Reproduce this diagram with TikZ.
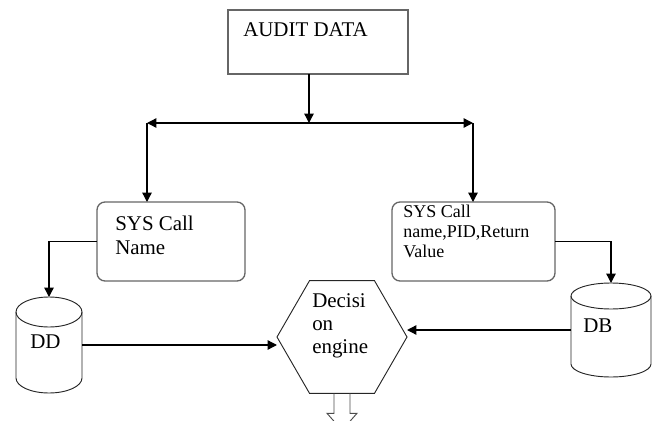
\documentclass[tikz,border=0pt]{standalone}
\usepackage{fontspec}
\setmainfont{Liberation Serif}
\usetikzlibrary{arrows.meta,shapes.geometric}

\begin{document}
\begin{tikzpicture}[x=0.75pt,y=-0.75pt,
    >={Triangle[length=7pt,width=7pt]},
    arr/.style={draw=black,line width=1pt},
    box/.style={draw=black!60,line width=1pt,inner sep=0,outer sep=0},
    txt/.style={inner sep=0,anchor=north west,align=left,font=\fontsize{15.7}{18}\selectfont},
    canline/.style={draw=black!85,line width=0.7pt}]
\clip (0,0) rectangle (657,421);
% top box and the split
\node[box,minimum width=135pt,minimum height=48pt] (audit) at (318,42) {};
\node[txt] (auditT) at (243,22) {AUDIT DATA};
\coordinate (split) at (309,123);
\coordinate (lend) at (147,123);
\coordinate (rend) at (473,123);
\draw[arr,->] (audit.south -| split) -- (split);
\draw[arr,<->] (lend) -- (rend);

% the two call boxes
\node[box,rounded corners=6pt,minimum width=111pt,minimum height=59.25pt] (call) at (171,241.5) {};
\node[txt] (callT) at (115,216) {SYS Call\\Name};
\node[box,rounded corners=6pt,minimum width=122.25pt,minimum height=59.25pt] (full) at (473.5,241.5) {};
\node[txt,font=\fontsize{13.5}{15}\selectfont] (fullT) at (403,205) {SYS Call\\name,PID,Return\\Value};
\draw[arr,->] (lend) -- (lend |- call.north);
\draw[arr,->] (rend) -- (rend |- full.north);

% stores
\node[inner sep=0,outer sep=0,minimum width=49.5pt,minimum height=72pt] (dd) at (49,345) {};
\node[inner sep=0,outer sep=0,minimum width=60pt,minimum height=70.5pt] (db) at (611,330) {};
\foreach \n/\rx/\ry in {dd/24.75pt/11.25pt, db/30pt/9.75pt}{
  \draw[canline] ([yshift=-\ry]\n.north west) -- ([yshift=\ry]\n.south west)
      arc[start angle=180,end angle=360,x radius=\rx,y radius=\ry]
      -- ([yshift=-\ry]\n.north east);
  \draw[canline] ([yshift=-\ry]\n.north) ellipse[x radius=\rx,y radius=\ry];
}
\node[txt] (ddT) at (30,335) {DD};
\node[txt] (dbT) at (583,319) {DB};
\draw[arr,->] (call.west) -| (dd.north);
\draw[arr,->] (full.east) -| (db.north);

% decision engine
\node[draw=black!85,line width=0.7pt,regular polygon,regular polygon sides=6,
      minimum size=97.5pt,inner sep=0,outer sep=0] (hex) at (342,337) {};
\node[txt,font=\fontsize{15.7}{17.5}\selectfont] (hexT) at (312,293) {Decisi\\on\\engine};
\draw[arr,->] (dd.east) -- (dd.east -| hex.west);
\draw[arr,->] (db.west) -- (db.west -| hex.east);
\draw[draw=black!70,line width=0.7pt] (hex.south) ++(-8,0) -- ++(0,20) -- ++(-7,0)
    -- ++(15,17) -- ++(15,-17) -- ++(-7,0) -- ++(0,-20);
\end{tikzpicture}
\end{document}
